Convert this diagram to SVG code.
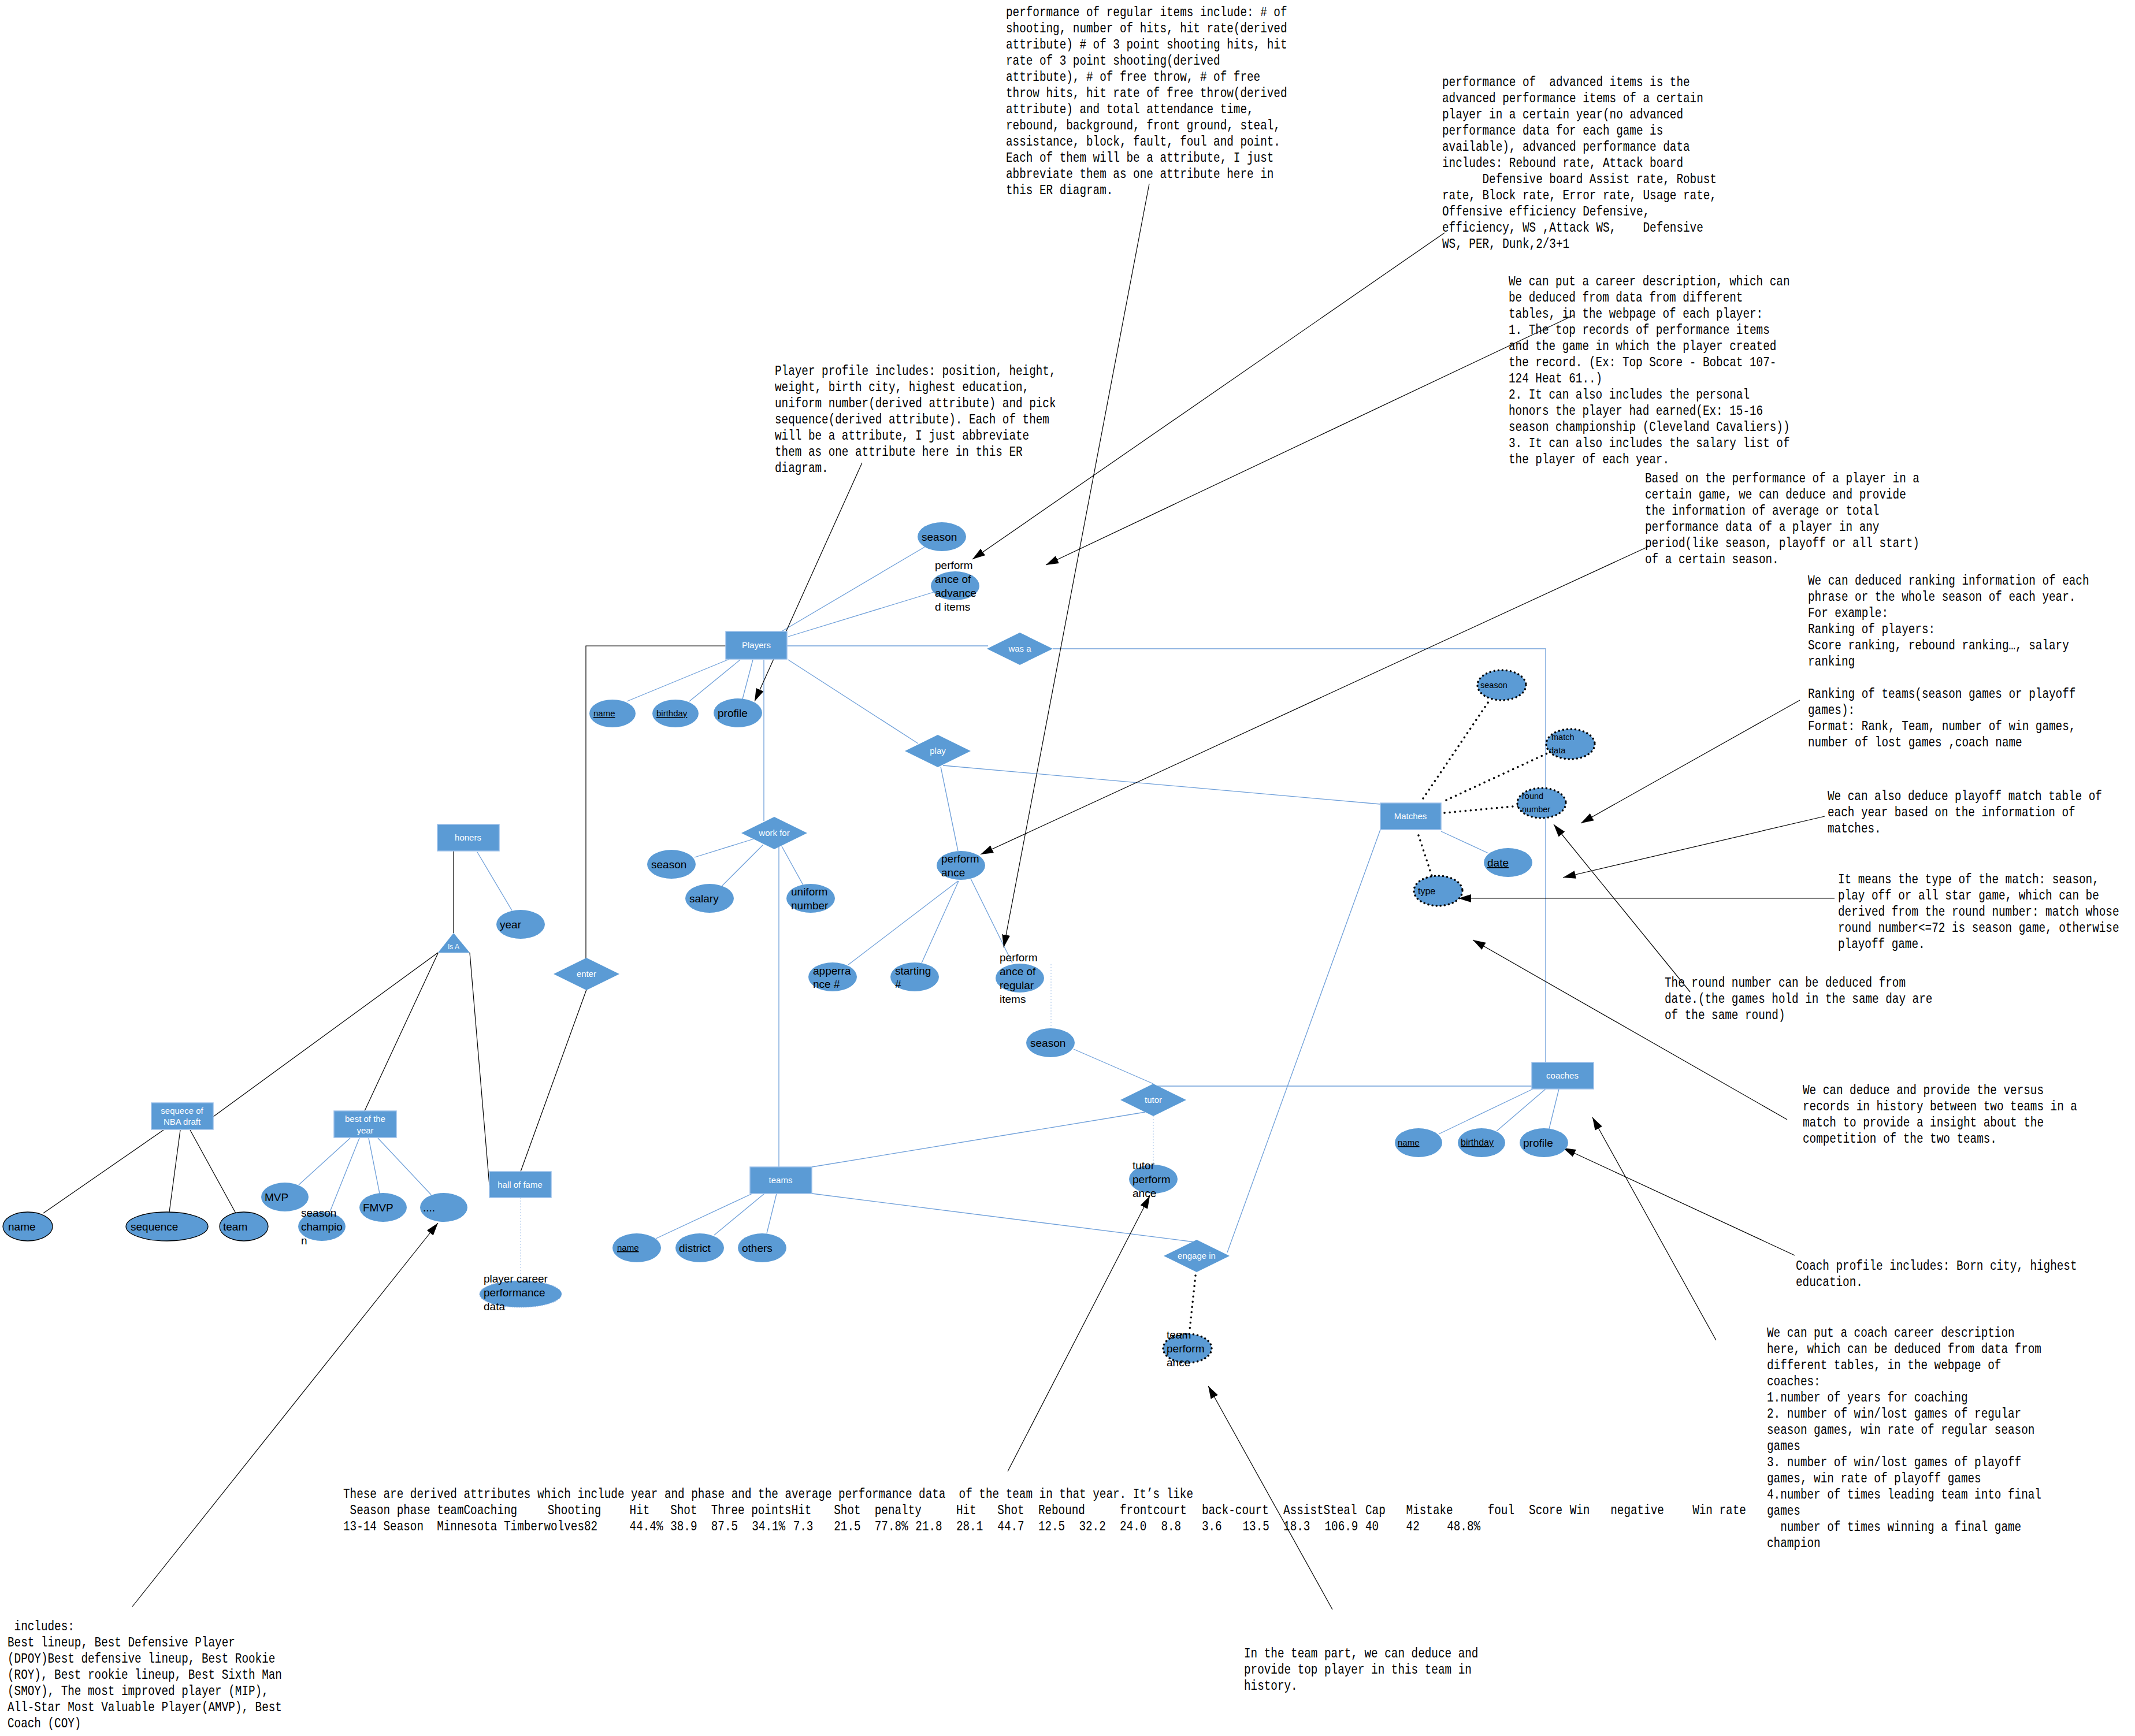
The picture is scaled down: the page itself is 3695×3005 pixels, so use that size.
<svg xmlns="http://www.w3.org/2000/svg" width="3695" height="3005" viewBox="0 0 3695 3005">
<style>
.ent{fill:#5B9BD5;stroke:#9DC1EA;stroke-width:1.5}
.et{fill:#fff;font-family:"Liberation Sans",Arial,sans-serif;font-size:15px;text-anchor:middle}
.at{fill:#5B9BD5}
.atk{fill:#5B9BD5;stroke:#000;stroke-width:1.3}
.atd{fill:#5B9BD5;stroke:#000;stroke-width:3.5;stroke-linecap:round;stroke-dasharray:0.1 7}
.atl{fill:#5B9BD5;stroke:#8DB3E2;stroke-width:1.2;stroke-dasharray:2 2}
.tx{fill:#000;font-family:"Liberation Sans",Arial,sans-serif;font-size:19px}
.ts{fill:#000;font-family:"Liberation Sans",Arial,sans-serif;font-size:15px;text-decoration:underline}
.tm{fill:#000;font-family:"Liberation Sans",Arial,sans-serif;font-size:14.5px}
.nt{fill:#000;font-family:"Liberation Mono","DejaVu Sans Mono",monospace;font-size:23px}
.ln{stroke:#6E9FD9;stroke-width:1.3;fill:none}
.bk{stroke:#000;stroke-width:1.2;fill:none}
.dt{stroke:#000;stroke-width:3.5;stroke-linecap:round;stroke-dasharray:0.1 9;fill:none}
.ld{stroke:#9DBDE6;stroke-width:1;stroke-dasharray:2 3;fill:none}
.ar{stroke:#000;stroke-width:1.2;fill:none;marker-end:url(#ah)}
</style>
<defs>
<marker id="ah" markerUnits="userSpaceOnUse" markerWidth="24" markerHeight="16" refX="22" refY="8" orient="auto">
<path d="M0,1 L22,8 L0,15 z" fill="#000"/>
</marker>
</defs>
<rect width="3695" height="3005" fill="#fff"/>

<g id="connectors">
<line class="ln" x1="1351" y1="1094" x2="1600" y2="947"/>
<line class="ln" x1="1364" y1="1102" x2="1616" y2="1025"/>
<line class="ln" x1="1362" y1="1118" x2="1710" y2="1118"/>
<polyline class="ln" points="1822,1123 2675,1123 2675,1839"/>
<line class="ln" x1="1262" y1="1141" x2="1085" y2="1214"/>
<line class="ln" x1="1281" y1="1142" x2="1193" y2="1214"/>
<line class="ln" x1="1303" y1="1142" x2="1285" y2="1210"/>
<line class="ln" x1="1322" y1="1142" x2="1322" y2="1421"/>
<line class="ln" x1="1364" y1="1142" x2="1589" y2="1287"/>
<line class="ln" x1="1628" y1="1327" x2="1658" y2="1473"/>
<line class="ln" x1="1632" y1="1325" x2="2389" y2="1392"/>
<line class="ln" x1="1305" y1="1452" x2="1202" y2="1484"/>
<line class="ln" x1="1321" y1="1462" x2="1250" y2="1533"/>
<line class="ln" x1="1353" y1="1465" x2="1390" y2="1532"/>
<line class="ln" x1="1348" y1="1465" x2="1348" y2="2020"/>
<line class="ln" x1="1658" y1="1525" x2="1468" y2="1670"/>
<line class="ln" x1="1659" y1="1525" x2="1595" y2="1667"/>
<line class="ln" x1="1680" y1="1521" x2="1752" y2="1667"/>
<line class="ln" x1="1858" y1="1816" x2="1996" y2="1876"/>
<line class="ln" x1="2003" y1="1880" x2="2651" y2="1880"/>
<line class="ln" x1="1982" y1="1925" x2="1405" y2="2020"/>
<line class="ln" x1="1405" y1="2066" x2="2068" y2="2150"/>
<line class="ln" x1="2389" y1="1436" x2="2124" y2="2168"/>
<line class="ln" x1="1302" y1="2066" x2="1135" y2="2144"/>
<line class="ln" x1="1323" y1="2066" x2="1236" y2="2138"/>
<line class="ln" x1="1344" y1="2066" x2="1327" y2="2135"/>
<line class="ln" x1="2494" y1="1439" x2="2576" y2="1477"/>
<line class="ln" x1="2653" y1="1885" x2="2490" y2="1963"/>
<line class="ln" x1="2675" y1="1885" x2="2590" y2="1958"/>
<line class="ln" x1="2698" y1="1885" x2="2681" y2="1954"/>
<line class="ln" x1="826" y1="1475" x2="886" y2="1576"/>
<line class="ln" x1="606" y1="1970" x2="517" y2="2051"/>
<line class="ln" x1="622" y1="1970" x2="570" y2="2100"/>
<line class="ln" x1="638" y1="1970" x2="657" y2="2066"/>
<line class="ln" x1="654" y1="1970" x2="746" y2="2068"/>
<line class="bk" x1="785" y1="1473" x2="785" y2="1615"/>
<line class="bk" x1="758" y1="1649" x2="369" y2="1933"/>
<line class="bk" x1="758" y1="1650" x2="631" y2="1923"/>
<line class="bk" x1="813" y1="1649" x2="847" y2="2052"/>
<line class="bk" x1="1015" y1="1713" x2="901" y2="2028"/>
<polyline class="bk" points="1014,1659 1014,1118 1256,1118"/>
<line class="bk" x1="283" y1="1956" x2="75" y2="2100"/>
<line class="bk" x1="312" y1="1956" x2="293" y2="2098"/>
<line class="bk" x1="329" y1="1956" x2="408" y2="2100"/>
<line class="dt" x1="2463" y1="1382" x2="2578" y2="1212"/>
<line class="dt" x1="2503" y1="1385" x2="2678" y2="1304"/>
<line class="dt" x1="2500" y1="1407" x2="2628" y2="1395"/>
<line class="dt" x1="2455" y1="1446" x2="2478" y2="1516"/>
<line class="dt" x1="2069" y1="2208" x2="2059" y2="2301"/>
<line class="ld" x1="1819" y1="1669" x2="1819" y2="1780"/>
<line class="ld" x1="1996" y1="1932" x2="1996" y2="2016"/>
<line class="ld" x1="901" y1="2073" x2="901" y2="2217"/>
<line class="ar" x1="1989" y1="318" x2="1737" y2="1640"/>
<line class="ar" x1="2500" y1="403" x2="1683" y2="968"/>
<line class="ar" x1="2725" y1="545" x2="1810" y2="978"/>
<line class="ar" x1="2853" y1="946" x2="1697" y2="1479"/>
<line class="ar" x1="1492" y1="801" x2="1306" y2="1214"/>
<line class="ar" x1="3115" y1="1212" x2="2736" y2="1425"/>
<line class="ar" x1="3158" y1="1413" x2="2705" y2="1519"/>
<line class="ar" x1="3175" y1="1555" x2="2524" y2="1555"/>
<line class="ar" x1="2925" y1="1717" x2="2689" y2="1427"/>
<line class="ar" x1="3093" y1="1938" x2="2549" y2="1627"/>
<line class="ar" x1="3106" y1="2173" x2="2705" y2="1987"/>
<line class="ar" x1="2970" y1="2320" x2="2756" y2="1934"/>
<line class="ar" x1="2306" y1="2786" x2="2091" y2="2399"/>
<line class="ar" x1="1744" y1="2547" x2="1990" y2="2070"/>
<line class="ar" x1="229" y1="2781" x2="758" y2="2117"/>
</g>

<g id="players"><rect class="ent" x="1256" y="1093" width="106" height="48"/><text class="et" x="1309" y="1122">Players</text></g>
<g id="honers"><rect class="ent" x="757" y="1427" width="107" height="46"/><text class="et" x="810" y="1455">honers</text></g>
<g id="sequece"><rect class="ent" x="262" y="1909" width="107" height="46"/><text class="et" x="315" y="1928">sequece of</text><text class="et" x="315" y="1947">NBA draft</text></g>
<g id="best"><rect class="ent" x="578" y="1923" width="108" height="46"/><text class="et" x="632" y="1942">best of the</text><text class="et" x="632" y="1962">year</text></g>
<g id="halloffame"><rect class="ent" x="847" y="2028" width="107" height="45"/><text class="et" x="900" y="2056">hall of fame</text></g>
<g id="teams"><rect class="ent" x="1298" y="2020" width="107" height="46"/><text class="et" x="1351" y="2048">teams</text></g>
<g id="matches"><rect class="ent" x="2389" y="1390" width="105" height="46"/><text class="et" x="2441" y="1418">Matches</text></g>
<g id="coaches"><rect class="ent" x="2651" y="1839" width="107" height="46"/><text class="et" x="2704" y="1867">coaches</text></g>

<g id="was-a"><polygon class="at" points="1765,1095 1822,1123 1765,1151 1708,1123"/><text class="et" x="1765" y="1128">was a</text></g>
<g id="play"><polygon class="at" points="1623,1272 1680,1300 1623,1328 1566,1300"/><text class="et" x="1623" y="1305">play</text></g>
<g id="work-for"><polygon class="at" points="1340,1414 1397,1442 1340,1470 1283,1442"/><text class="et" x="1340" y="1447">work for</text></g>
<g id="enter"><polygon class="at" points="1015,1658 1072,1686 1015,1714 958,1686"/><text class="et" x="1015" y="1691">enter</text></g>
<g id="tutor"><polygon class="at" points="1996,1876 2053,1904 1996,1932 1939,1904"/><text class="et" x="1996" y="1909">tutor</text></g>
<g id="engage-in"><polygon class="at" points="2071,2146 2128,2174 2071,2202 2014,2174"/><text class="et" x="2071" y="2179">engage in</text></g>
<g id="is-a"><polygon class="at" points="785,1615 758,1649 813,1649"/><text class="et" x="785" y="1643" style="font-size:12px">Is A</text></g>

<g id="p-season"><ellipse class="at" cx="1630" cy="929" rx="42" ry="25"/><text class="tx" x="1595" y="936">season</text></g>
<g id="p-advanced"><ellipse class="at" cx="1653" cy="1014" rx="42" ry="25"/><text class="tx"><tspan x="1618" y="985">perform</tspan><tspan x="1618" y="1009">ance of</tspan><tspan x="1618" y="1033">advance</tspan><tspan x="1618" y="1057">d items</tspan></text></g>
<g id="p-name"><ellipse class="at" cx="1060" cy="1235" rx="40" ry="24"/><text class="ts" x="1027" y="1240">name</text></g>
<g id="p-birthday"><ellipse class="at" cx="1169" cy="1235" rx="40" ry="24"/><text class="ts" x="1136" y="1240">birthday</text></g>
<g id="p-profile"><ellipse class="at" cx="1277" cy="1234" rx="42" ry="25"/><text class="tx" x="1242" y="1241">profile</text></g>

<g id="w-season"><ellipse class="at" cx="1162" cy="1496" rx="42" ry="25"/><text class="tx" x="1127" y="1503">season</text></g>
<g id="w-salary"><ellipse class="at" cx="1228" cy="1555" rx="42" ry="25"/><text class="tx" x="1193" y="1562">salary</text></g>
<g id="w-uniform"><ellipse class="at" cx="1403" cy="1555" rx="42" ry="25"/><text class="tx"><tspan x="1369" y="1550">uniform</tspan><tspan x="1369" y="1574">number</tspan></text></g>

<g id="performance"><ellipse class="at" cx="1663" cy="1498" rx="42" ry="25"/><text class="tx"><tspan x="1629" y="1493">perform</tspan><tspan x="1629" y="1517">ance</tspan></text></g>
<g id="apperrance"><ellipse class="at" cx="1441" cy="1691" rx="42" ry="25"/><text class="tx"><tspan x="1407" y="1687">apperra</tspan><tspan x="1407" y="1710">nce #</tspan></text></g>
<g id="starting"><ellipse class="at" cx="1583" cy="1691" rx="42" ry="25"/><text class="tx"><tspan x="1549" y="1687">starting</tspan><tspan x="1549" y="1710">#</tspan></text></g>
<g id="regular"><ellipse class="at" cx="1765" cy="1693" rx="42" ry="25"/><text class="tx"><tspan x="1730" y="1664">perform</tspan><tspan x="1730" y="1688">ance of</tspan><tspan x="1730" y="1712">regular</tspan><tspan x="1730" y="1736">items</tspan></text></g>
<g id="r-season"><ellipse class="at" cx="1818" cy="1805" rx="42" ry="25"/><text class="tx" x="1783" y="1812">season</text></g>

<g id="t-name"><ellipse class="at" cx="1102" cy="2160" rx="42" ry="25"/><text class="ts" x="1068" y="2165">name</text></g>
<g id="t-district"><ellipse class="at" cx="1211" cy="2160" rx="42" ry="25"/><text class="tx" x="1175" y="2167">district</text></g>
<g id="t-others"><ellipse class="at" cx="1319" cy="2160" rx="42" ry="25"/><text class="tx" x="1284" y="2167">others</text></g>
<g id="tutor-perf"><ellipse class="at" cx="1996" cy="2041" rx="42" ry="25"/><text class="tx"><tspan x="1960" y="2024">tutor</tspan><tspan x="1960" y="2048">perform</tspan><tspan x="1960" y="2072">ance</tspan></text></g>
<g id="team-perf"><ellipse class="atd" cx="2055" cy="2334" rx="42" ry="25"/><text class="tx"><tspan x="2019" y="2317">team</tspan><tspan x="2019" y="2341">perform</tspan><tspan x="2019" y="2365">ance</tspan></text></g>

<g id="h-year"><ellipse class="at" cx="901" cy="1600" rx="42" ry="25"/><text class="tx" x="865" y="1607">year</text></g>
<g id="s-name"><ellipse class="atk" cx="48" cy="2123" rx="43" ry="25"/><text class="tx" x="14" y="2130">name</text></g>
<g id="s-sequence"><ellipse class="atk" cx="289" cy="2123" rx="71" ry="25"/><text class="tx" x="226" y="2130">sequence</text></g>
<g id="s-team"><ellipse class="atk" cx="422" cy="2123" rx="42" ry="25"/><text class="tx" x="386" y="2130">team</text></g>
<g id="b-mvp"><ellipse class="at" cx="493" cy="2072" rx="41" ry="25"/><text class="tx" x="458" y="2079">MVP</text></g>
<g id="b-champion"><ellipse class="at" cx="557" cy="2123" rx="41" ry="25"/><text class="tx"><tspan x="521" y="2106">season</tspan><tspan x="521" y="2130">champio</tspan><tspan x="521" y="2154">n</tspan></text></g>
<g id="b-fmvp"><ellipse class="at" cx="663" cy="2090" rx="41" ry="25"/><text class="tx" x="628" y="2097">FMVP</text></g>
<g id="b-more"><ellipse class="at" cx="768" cy="2090" rx="41" ry="25"/><text class="tx" x="732" y="2097">....</text></g>
<g id="career"><ellipse class="atl" cx="901" cy="2240" rx="71" ry="23"/><text class="tx"><tspan x="837" y="2220">player career</tspan><tspan x="837" y="2244">performance</tspan><tspan x="837" y="2268">data</tspan></text></g>

<g id="m-season"><ellipse class="atd" cx="2599" cy="1186" rx="42" ry="26"/><text class="tm" x="2562" y="1191">season</text></g>
<g id="m-matchdata"><ellipse class="atd" cx="2718" cy="1288" rx="42" ry="26"/><text class="tm"><tspan x="2685" y="1281">match</tspan><tspan x="2681" y="1304">data</tspan></text></g>
<g id="m-round"><ellipse class="atd" cx="2668" cy="1390" rx="42" ry="26"/><text class="tm"><tspan x="2634" y="1383">round</tspan><tspan x="2634" y="1406">number</tspan></text></g>
<g id="m-date"><ellipse class="at" cx="2610" cy="1493" rx="42" ry="25"/><text class="tx" x="2574" y="1500" style="text-decoration:underline">date</text></g>
<g id="m-type"><ellipse class="atd" cx="2489" cy="1542" rx="42" ry="26"/><text class="tm" x="2454" y="1548" style="font-size:16px">type</text></g>

<g id="c-name"><ellipse class="at" cx="2455" cy="1978" rx="41" ry="25"/><text class="ts" x="2419" y="1983">name</text></g>
<g id="c-birthday"><ellipse class="at" cx="2564" cy="1978" rx="41" ry="25"/><text class="ts" x="2528" y="1983" style="font-size:16px">birthday</text></g>
<g id="c-profile"><ellipse class="at" cx="2672" cy="1978" rx="42" ry="25"/><text class="tx" x="2636" y="1985">profile</text></g>

<g id="note-regular" transform="translate(1741,0) scale(0.84,1)"><text class="nt">
<tspan x="0" y="28">performance of regular items include: # of</tspan>
<tspan x="0" y="56">shooting, number of hits, hit rate(derived</tspan>
<tspan x="0" y="84">attribute) # of 3 point shooting hits, hit</tspan>
<tspan x="0" y="112">rate of 3 point shooting(derived</tspan>
<tspan x="0" y="140">attribute),  # of free throw, # of free</tspan>
<tspan x="0" y="168">throw hits, hit rate of free throw(derived</tspan>
<tspan x="0" y="196">attribute) and total attendance time,</tspan>
<tspan x="0" y="224">rebound, background, front ground, steal,</tspan>
<tspan x="0" y="252">assistance, block, fault, foul and point.</tspan>
<tspan x="0" y="280">Each of them will be a attribute, I just</tspan>
<tspan x="0" y="308">abbreviate them as one attribute here in</tspan>
<tspan x="0" y="336">this ER diagram.</tspan></text></g>

<g id="note-advanced" transform="translate(2496,0) scale(0.84,1)"><text class="nt" xml:space="preserve">
<tspan x="0" y="149">performance of  advanced items is the</tspan>
<tspan x="0" y="177">advanced performance items of a certain</tspan>
<tspan x="0" y="205">player in a certain year(no advanced</tspan>
<tspan x="0" y="233">performance data for each game is</tspan>
<tspan x="0" y="261">available), advanced performance data</tspan>
<tspan x="0" y="289">includes: Rebound rate, Attack board</tspan>
<tspan x="0" y="317">      Defensive board Assist rate, Robust</tspan>
<tspan x="0" y="345">rate, Block rate, Error rate, Usage rate,</tspan>
<tspan x="0" y="373">Offensive efficiency Defensive,</tspan>
<tspan x="0" y="401">efficiency, WS ,Attack WS,    Defensive</tspan>
<tspan x="0" y="429">WS, PER, Dunk,2/3+1</tspan></text></g>

<g id="note-career" transform="translate(2611,0) scale(0.84,1)"><text class="nt">
<tspan x="0" y="494">We can put a career description, which can</tspan>
<tspan x="0" y="522">be deduced from data from different</tspan>
<tspan x="0" y="550">tables, in the webpage of each player:</tspan>
<tspan x="0" y="578">1. The top records of performance items</tspan>
<tspan x="0" y="606">and the game in which the player created</tspan>
<tspan x="0" y="634">the record. (Ex: Top Score - Bobcat 107-</tspan>
<tspan x="0" y="662">124 Heat 61..)</tspan>
<tspan x="0" y="690">2. It can also includes the personal</tspan>
<tspan x="0" y="718">honors the player had earned(Ex: 15-16</tspan>
<tspan x="0" y="746">season championship (Cleveland Cavaliers))</tspan>
<tspan x="0" y="774">3. It can also includes the salary list of</tspan>
<tspan x="0" y="802">the player of each year.</tspan></text></g>

<g id="note-based" transform="translate(2847,0) scale(0.84,1)"><text class="nt">
<tspan x="0" y="835">Based on the performance of a player in a</tspan>
<tspan x="0" y="863">certain game, we can deduce and provide</tspan>
<tspan x="0" y="891">the information of average or total</tspan>
<tspan x="0" y="919">performance data of a player in any</tspan>
<tspan x="0" y="947">period(like season, playoff or all start)</tspan>
<tspan x="0" y="975">of a certain season.</tspan></text></g>

<g id="note-ranking" transform="translate(3129,0) scale(0.84,1)"><text class="nt">
<tspan x="0" y="1012">We can deduced ranking information of each</tspan>
<tspan x="0" y="1040">phrase or the whole season of each year.</tspan>
<tspan x="0" y="1068">For example:</tspan>
<tspan x="0" y="1096">Ranking of players:</tspan>
<tspan x="0" y="1124">Score ranking, rebound ranking…, salary</tspan>
<tspan x="0" y="1152">ranking</tspan>
<tspan x="0" y="1208">Ranking of teams(season games or playoff</tspan>
<tspan x="0" y="1236">games):</tspan>
<tspan x="0" y="1264">Format: Rank, Team, number of win games,</tspan>
<tspan x="0" y="1292">number of lost games ,coach name</tspan></text></g>

<g id="note-playoff" transform="translate(3163,0) scale(0.84,1)"><text class="nt">
<tspan x="0" y="1385">We can also deduce playoff match table of</tspan>
<tspan x="0" y="1413">each year based on the information of</tspan>
<tspan x="0" y="1441">matches.</tspan></text></g>

<g id="note-type" transform="translate(3181,0) scale(0.84,1)"><text class="nt">
<tspan x="0" y="1529">It means the type of the match: season,</tspan>
<tspan x="0" y="1557">play off or all star game, which can be</tspan>
<tspan x="0" y="1585">derived from the round number: match whose</tspan>
<tspan x="0" y="1613">round number&lt;=72 is season game, otherwise</tspan>
<tspan x="0" y="1641">playoff game.</tspan></text></g>

<g id="note-round" transform="translate(2881,0) scale(0.84,1)"><text class="nt">
<tspan x="0" y="1708">The round number can be deduced from</tspan>
<tspan x="0" y="1736">date.(the games hold in the same day are</tspan>
<tspan x="0" y="1764">of the same round)</tspan></text></g>

<g id="note-versus" transform="translate(3120,0) scale(0.84,1)"><text class="nt">
<tspan x="0" y="1894">We can deduce and provide the versus</tspan>
<tspan x="0" y="1922">records in history between two teams in a</tspan>
<tspan x="0" y="1950">match to provide a insight about the</tspan>
<tspan x="0" y="1978">competition of the two teams.</tspan></text></g>

<g id="note-coach-profile" transform="translate(3108,0) scale(0.84,1)"><text class="nt">
<tspan x="0" y="2198">Coach profile includes: Born city, highest</tspan>
<tspan x="0" y="2226">education.</tspan></text></g>

<g id="note-coach-career" transform="translate(3058,0) scale(0.84,1)"><text class="nt" xml:space="preserve">
<tspan x="0" y="2314">We can put a coach career description</tspan>
<tspan x="0" y="2342">here, which can be deduced from data from</tspan>
<tspan x="0" y="2370">different tables, in the webpage of</tspan>
<tspan x="0" y="2398">coaches:</tspan>
<tspan x="0" y="2426">1.number of years for coaching</tspan>
<tspan x="0" y="2454">2. number of win/lost games of regular</tspan>
<tspan x="0" y="2482">season games, win rate of regular season</tspan>
<tspan x="0" y="2510">games</tspan>
<tspan x="0" y="2538">3. number of win/lost games of playoff</tspan>
<tspan x="0" y="2566">games, win rate of playoff games</tspan>
<tspan x="0" y="2594">4.number of times leading team into final</tspan>
<tspan x="0" y="2622">games</tspan>
<tspan x="0" y="2650">  number of times winning a final game</tspan>
<tspan x="0" y="2678">champion</tspan></text></g>

<g id="note-team-part" transform="translate(2153,0) scale(0.84,1)"><text class="nt">
<tspan x="0" y="2869">In the team part, we can deduce and</tspan>
<tspan x="0" y="2897">provide top player in this team in</tspan>
<tspan x="0" y="2925">history.</tspan></text></g>

<g id="note-profile" transform="translate(1341,0) scale(0.84,1)"><text class="nt">
<tspan x="0" y="649">Player profile includes: position, height,</tspan>
<tspan x="0" y="677">weight, birth city, highest education,</tspan>
<tspan x="0" y="705">uniform number(derived attribute) and pick</tspan>
<tspan x="0" y="733">sequence(derived attribute). Each of them</tspan>
<tspan x="0" y="761">will be a attribute, I just abbreviate</tspan>
<tspan x="0" y="789">them as one attribute here in this ER</tspan>
<tspan x="0" y="817">diagram.</tspan></text></g>

<g id="note-includes" transform="translate(13,0) scale(0.84,1)"><text class="nt" xml:space="preserve">
<tspan x="0" y="2822"> includes:</tspan>
<tspan x="0" y="2850">Best lineup, Best Defensive Player</tspan>
<tspan x="0" y="2878">(DPOY)Best defensive lineup, Best Rookie</tspan>
<tspan x="0" y="2906">(ROY), Best rookie lineup, Best Sixth Man</tspan>
<tspan x="0" y="2934">(SMOY), The most improved player (MIP),</tspan>
<tspan x="0" y="2962">All-Star Most Valuable Player(AMVP), Best</tspan>
<tspan x="0" y="2990">Coach (COY)</tspan></text></g>

<g id="note-derived" transform="translate(594,0) scale(0.84,1)"><text class="nt" xml:space="preserve">
<tspan x="0" y="2593">These are derived attributes which include year and phase and the average performance data  of the team in that year. It’s like</tspan>
<tspan x="0" y="2621"> Season phase teamCoaching</tspan><tspan x="421" y="2621">Shooting</tspan><tspan x="590" y="2621">Hit</tspan><tspan x="674" y="2621">Shot</tspan><tspan x="758" y="2621">Three pointsHit</tspan><tspan x="1011" y="2621">Shot</tspan><tspan x="1095" y="2621">penalty</tspan><tspan x="1263" y="2621">Hit</tspan><tspan x="1348" y="2621">Shot</tspan><tspan x="1432" y="2621">Rebound</tspan><tspan x="1600" y="2621">frontcourt</tspan><tspan x="1769" y="2621">back-court</tspan><tspan x="1937" y="2621">AssistSteal</tspan><tspan x="2106" y="2621">Cap</tspan><tspan x="2190" y="2621">Mistake</tspan><tspan x="2358" y="2621">foul</tspan><tspan x="2443" y="2621">Score</tspan><tspan x="2527" y="2621">Win</tspan><tspan x="2611" y="2621">negative</tspan><tspan x="2780" y="2621">Win rate</tspan>
<tspan x="0" y="2649">13-14 Season  Minnesota Timberwolves82</tspan><tspan x="590" y="2649">44.4%</tspan><tspan x="674" y="2649">38.9</tspan><tspan x="758" y="2649">87.5</tspan><tspan x="842" y="2649">34.1%</tspan><tspan x="927" y="2649">7.3</tspan><tspan x="1011" y="2649">21.5</tspan><tspan x="1095" y="2649">77.8%</tspan><tspan x="1179" y="2649">21.8</tspan><tspan x="1263" y="2649">28.1</tspan><tspan x="1348" y="2649">44.7</tspan><tspan x="1432" y="2649">12.5</tspan><tspan x="1516" y="2649">32.2</tspan><tspan x="1600" y="2649">24.0</tspan><tspan x="1685" y="2649">8.8</tspan><tspan x="1769" y="2649">3.6</tspan><tspan x="1853" y="2649">13.5</tspan><tspan x="1937" y="2649">18.3</tspan><tspan x="2022" y="2649">106.9</tspan><tspan x="2106" y="2649">40</tspan><tspan x="2190" y="2649">42</tspan><tspan x="2274" y="2649">48.8%</tspan></text></g>
</svg>
